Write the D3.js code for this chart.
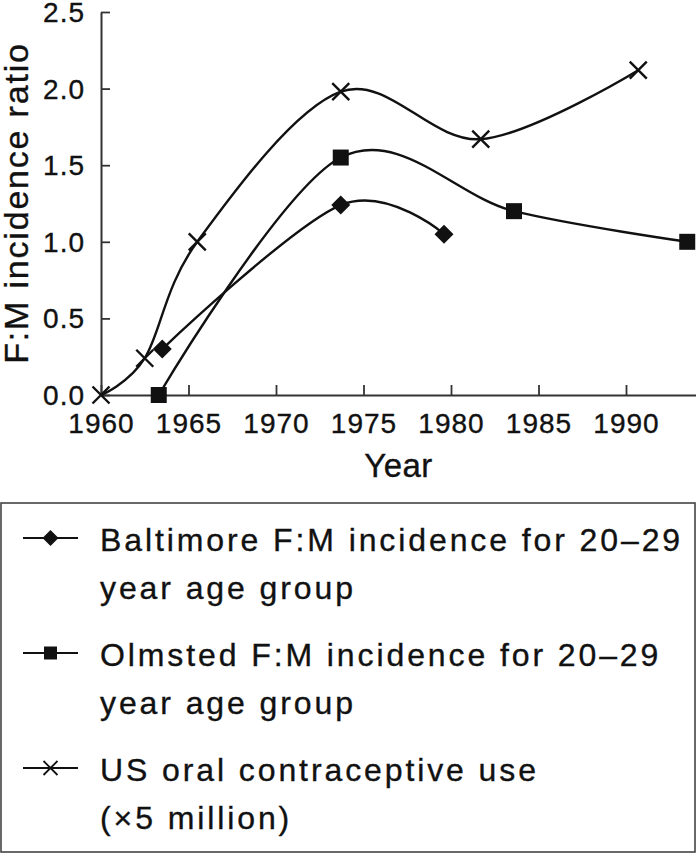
<!DOCTYPE html>
<html>
<head>
<meta charset="utf-8">
<script src="https://cdn.jsdelivr.net/npm/d3@7"></script>
<style>
  html, body { margin: 0; padding: 0; background: #fff; }
  svg { display: block; }
  text { font-family: "Liberation Sans", Arial, Helvetica, sans-serif; fill: #111; stroke: #111; stroke-width: 0.35px; }
</style>
</head>
<body>
<svg id="chart" width="696" height="853"></svg>
<script>
// ---- data ----
const baltimoreYears = [1963.5, 1973.7, 1979.6];
const baltimoreRatio = [0.30, 1.24, 1.05];
const olmstedYears = [1963.3, 1973.7, 1983.6, 1993.5];
const olmstedRatio = [0.00, 1.55, 1.20, 1.00];
const contraYears = [1960.0, 1962.5, 1965.5, 1973.7, 1981.7, 1990.7];
const contraRatio = [0.00, 0.24, 1.00, 1.98, 1.67, 2.12];
const xTicks = [1960, 1965, 1970, 1975, 1980, 1985, 1990];
const yTicks = [0.0, 0.5, 1.0, 1.5, 2.0, 2.5];
const xDomain = [1960, 1994];
const yDomain = [0, 2.5];
const legendLabels = [
  ["Baltimore F:M incidence for 20\u201329", "year age group"],
  ["Olmsted F:M incidence for 20\u201329", "year age group"],
  ["US oral contraceptive use", "(\u00d75 million)"]
];
const xTitle = "Year";
const yTitle = "F:M incidence ratio";

// ---- layout ----
const svg = d3.select("#chart");
const plot = { left: 101, right: 696, top: 12, bottom: 395 };
const x = d3.scaleLinear().domain(xDomain).range([plot.left, plot.right]);
const y = d3.scaleLinear().domain(yDomain).range([plot.bottom, plot.top]);
const ink = "#111";
const axisInk = "#333";

// axes
const xAxis = d3.axisBottom(x).tickValues(xTicks).tickFormat(d3.format("d"))
  .tickSizeInner(-10).tickSizeOuter(0).tickPadding(18);
const yAxis = d3.axisLeft(y).tickValues(yTicks).tickFormat(d3.format(".1f"))
  .tickSizeInner(-9).tickSizeOuter(0).tickPadding(16);

const gx = svg.append("g").attr("transform", `translate(0,${plot.bottom})`).call(xAxis);
const gy = svg.append("g").attr("transform", `translate(${plot.left},0)`).call(yAxis);
[gx, gy].forEach(g => {
  g.select(".domain").attr("stroke", axisInk).attr("stroke-width", 2);
  g.selectAll(".tick line").attr("stroke", axisInk).attr("stroke-width", 1.8);
  g.selectAll(".tick text")
    .attr("fill", ink)
    .style("font-family", '"Liberation Sans", Arial, sans-serif')
    .style("font-size", "28px")
    .style("letter-spacing", "1px");
});
gy.selectAll(".tick text").attr("dy", "0.34em");

// axis titles
svg.append("text")
  .attr("x", (plot.left + plot.right) / 2)
  .attr("y", 477)
  .attr("text-anchor", "middle")
  .style("font-size", "33px")
  .style("letter-spacing", "0.5px")
  .text(xTitle);

svg.append("text")
  .attr("transform", `translate(28,${203}) rotate(-90)`)
  .attr("text-anchor", "middle")
  .style("font-size", "34px")
  .style("letter-spacing", "1.8px")
  .text(yTitle);

// ---- series ----
const curve = d3.curveCardinal.tension(0);
const line = d3.line().x(d => x(d[0])).y(d => y(d[1])).curve(curve);

const series = [
  { name: "baltimore", pts: d3.zip(baltimoreYears, baltimoreRatio), marker: "diamond" },
  { name: "olmsted", pts: d3.zip(olmstedYears, olmstedRatio), marker: "square" },
  { name: "contra", pts: d3.zip(contraYears, contraRatio), marker: "x" }
];

function markerPath(type, s) {
  if (type === "diamond") return `M0,${-s}L${s},0L0,${s}L${-s},0Z`;
  if (type === "square") return `M${-s},${-s}H${s}V${s}H${-s}Z`;
  return `M${-s},${-s}L${s},${s}M${-s},${s}L${s},${-s}`;
}
function styleMarker(sel, type, sw) {
  if (type === "x") sel.attr("fill", "none").attr("stroke", ink).attr("stroke-width", sw);
  else sel.attr("fill", ink).attr("stroke", "none");
}
const plotSize = { diamond: 9.5, square: 8, x: 8.5 };
const legendSize = { diamond: 8, square: 6.5, x: 7 };

series.forEach(s => {
  svg.append("path")
    .datum(s.pts)
    .attr("fill", "none")
    .attr("stroke", ink)
    .attr("stroke-width", 2.4)
    .attr("d", line);
});
series.forEach(s => {
  const m = svg.append("g").selectAll("path").data(s.pts).join("path")
    .attr("transform", d => `translate(${x(d[0])},${y(d[1])})`)
    .attr("d", markerPath(s.marker, plotSize[s.marker]));
  styleMarker(m, s.marker, 2.4);
});

// ---- legend ----
const legend = svg.append("g");
legend.append("rect")
  .attr("x", 1).attr("y", 503).attr("width", 694).attr("height", 349)
  .attr("fill", "none").attr("stroke", "#444").attr("stroke-width", 1.6);

const legendRowY = [538, 653, 768];
const lineGap = 48;
series.forEach((s, i) => {
  const cy = legendRowY[i];
  legend.append("line")
    .attr("x1", 23).attr("x2", 78).attr("y1", cy).attr("y2", cy)
    .attr("stroke", ink).attr("stroke-width", 2.2);
  const m = legend.append("path")
    .attr("transform", `translate(50.5,${cy})`)
    .attr("d", markerPath(s.marker, legendSize[s.marker]));
  styleMarker(m, s.marker, 1.8);
  legendLabels[i].forEach((t, j) => {
    legend.append("text")
      .attr("x", 100)
      .attr("y", cy + 12.5 + j * lineGap)
      .style("font-size", "32px")
      .style("letter-spacing", "2.9px")
      .text(t);
  });
});
</script>
</body>
</html>
